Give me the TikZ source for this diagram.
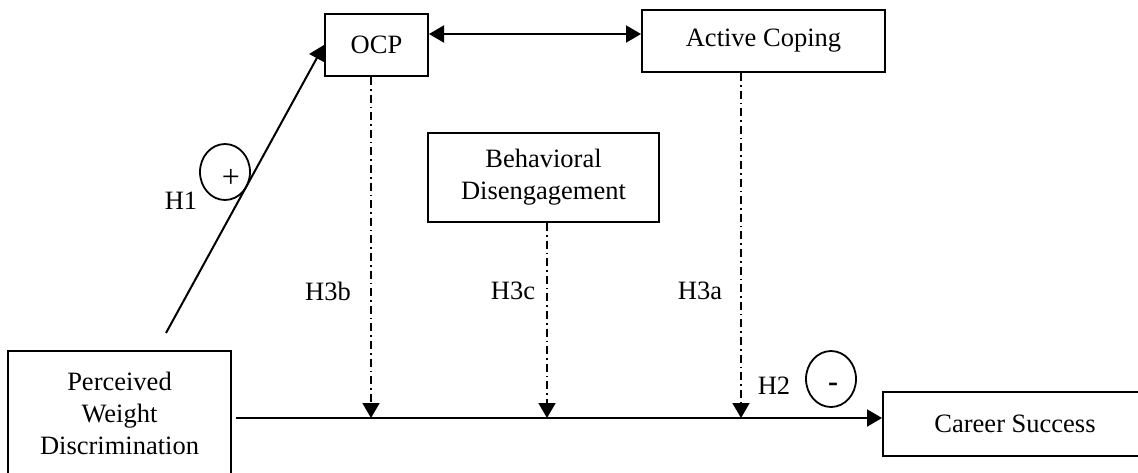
\documentclass[tikz,border=0pt]{standalone}
\usepackage{fontspec}
\setmainfont{Liberation Serif}
\usetikzlibrary{arrows.meta,shapes.geometric}
\begin{document}
\begin{tikzpicture}[x=0.5pt,y=-0.5pt,
  font=\fontsize{13.25}{16}\selectfont,
  box/.style={draw,line width=1pt,inner sep=0pt,align=center},
  conn/.style={line width=1pt},
  tip/.style={-{Triangle[length=7.5pt,width=8.5pt]}},
  dd/.style={line width=0.9pt,dash pattern=on 4pt off 2pt on 0.8pt off 2pt},
  sign/.style={draw,ellipse,line width=0.9pt,minimum width=25pt,minimum height=28pt,inner sep=0pt},
  lbl/.style={inner sep=0pt}]
\useasboundingbox (0,0) rectangle (1138,472);
\clip (0,0) rectangle (1138,472);
\fill[white] (0,0) rectangle (1138,472);
% boxes
\node[box,minimum width=51.5pt,minimum height=31pt] (ocp) at (376.5,45) {OCP};
\node[box,minimum width=121.5pt,minimum height=31pt] (ac) at (763.5,41) {Active Coping};
\node[box,minimum width=115.5pt,minimum height=44.5pt] (bd) at (543.5,177.5) {Behavioral\\Disengagement};
\node[box,minimum width=111.5pt,minimum height=62.5pt] (pwd) at (119.5,413.5) {Perceived\\Weight\\Discrimination};
\node[box,minimum width=132pt,minimum height=32pt] (cs) at (1015,424) {Career Success};
% coordinates
\coordinate (h1s) at (166,333);
\coordinate (m1) at (371,418);
\coordinate (m2) at (547,418);
\coordinate (m3) at (741,418);
% H1 path
\draw[conn,tip] (h1s) -- (ocp.west);
% double arrow
\draw[conn,{Triangle[length=7.5pt,width=8.5pt]}-{Triangle[length=7.5pt,width=8.5pt]}] (ocp.east |- 0,34) -- (ac.west |- 0,34);
% main line
\draw[conn,tip] (pwd.east |- m1) ++(4,0) -- (cs.west |- m1);
% moderating dash-dot arrows
\draw[dd,tip] (ocp.south -| m1) -- (m1);
\draw[dd,tip] (bd.south -| m2) -- (m2);
\draw[dd,tip] (ac.south -| m3) -- (m3);
% signs
\node[sign] (plus) at (225,172) {};
\node[lbl,font=\fontsize{16}{16}\selectfont] (plust) at (231,178) {+};
\node[sign] (minus) at (831,379) {};
\node[lbl,font=\fontsize{15}{15}\selectfont\bfseries] (minust) at (833,387) {-};
% labels
\node[lbl] (lh1) at (181,201) {H1};
\node[lbl] (lh3b) at (328,291) {H3b};
\node[lbl] (lh3c) at (513,291) {H3c};
\node[lbl] (lh3a) at (700,291) {H3a};
\node[lbl] (lh2) at (774,386) {H2};
\end{tikzpicture}
\end{document}
